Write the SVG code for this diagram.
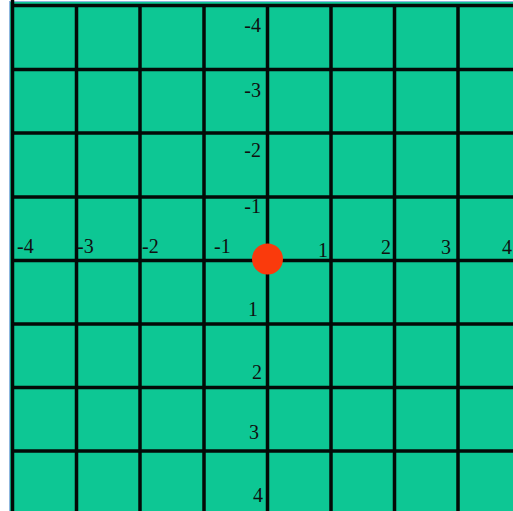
<svg xmlns="http://www.w3.org/2000/svg" width="513" height="511" viewBox="0 0 513 511">
  <style>
    .grid line { stroke: #030a07; stroke-width: 3.5; }
    .lbl { font-family: "Liberation Serif", "Times New Roman", serif; font-size: 20px; fill: #101010; }
    .e { text-anchor: end; }
  </style>
  <rect x="0" y="0" width="513" height="511" fill="#ffffff"/>
  <rect x="9.5" y="1.5" width="510" height="520" fill="#0dc794" stroke="#8fb6de" stroke-width="1"/>
  <g id="grid" class="grid">
    <line x1="12.5" y1="0" x2="12.5" y2="511"/>
    <line x1="76.5" y1="4" x2="76.5" y2="511"/>
    <line x1="140" y1="4" x2="140" y2="511"/>
    <line x1="204" y1="4" x2="204" y2="511"/>
    <line x1="267.5" y1="4" x2="267.5" y2="511"/>
    <line x1="331" y1="4" x2="331" y2="511"/>
    <line x1="394.5" y1="4" x2="394.5" y2="511"/>
    <line x1="458" y1="4" x2="458" y2="511"/>
    <line x1="11" y1="5.5" x2="513" y2="5.5"/>
    <line x1="11" y1="69.5" x2="513" y2="69.5"/>
    <line x1="11" y1="133" x2="513" y2="133"/>
    <line x1="11" y1="197" x2="513" y2="197"/>
    <line x1="11" y1="260.5" x2="513" y2="260.5"/>
    <line x1="11" y1="324" x2="513" y2="324"/>
    <line x1="11" y1="387.5" x2="513" y2="387.5"/>
    <line x1="11" y1="451" x2="513" y2="451"/>
  </g>
  <g id="x-labels" class="lbl">
    <text x="17" y="253">-4</text>
    <text x="77" y="253">-3</text>
    <text x="142" y="253">-2</text>
    <text x="214" y="253">-1</text>
    <text class="e" x="328" y="257">1</text>
    <text class="e" x="391" y="254">2</text>
    <text class="e" x="451" y="254">3</text>
    <text x="502" y="254">4</text>
  </g>
  <g id="y-labels" class="lbl">
    <text class="e" x="261" y="32">-4</text>
    <text class="e" x="261" y="97">-3</text>
    <text class="e" x="261" y="157">-2</text>
    <text class="e" x="261" y="213">-1</text>
    <text class="e" x="258" y="316">1</text>
    <text class="e" x="262" y="379">2</text>
    <text class="e" x="259" y="439">3</text>
    <text class="e" x="263" y="502">4</text>
  </g>
  <g id="origin">
    <circle cx="267.5" cy="259" r="15.5" fill="#fa3a0c"/>
  </g>
</svg>
